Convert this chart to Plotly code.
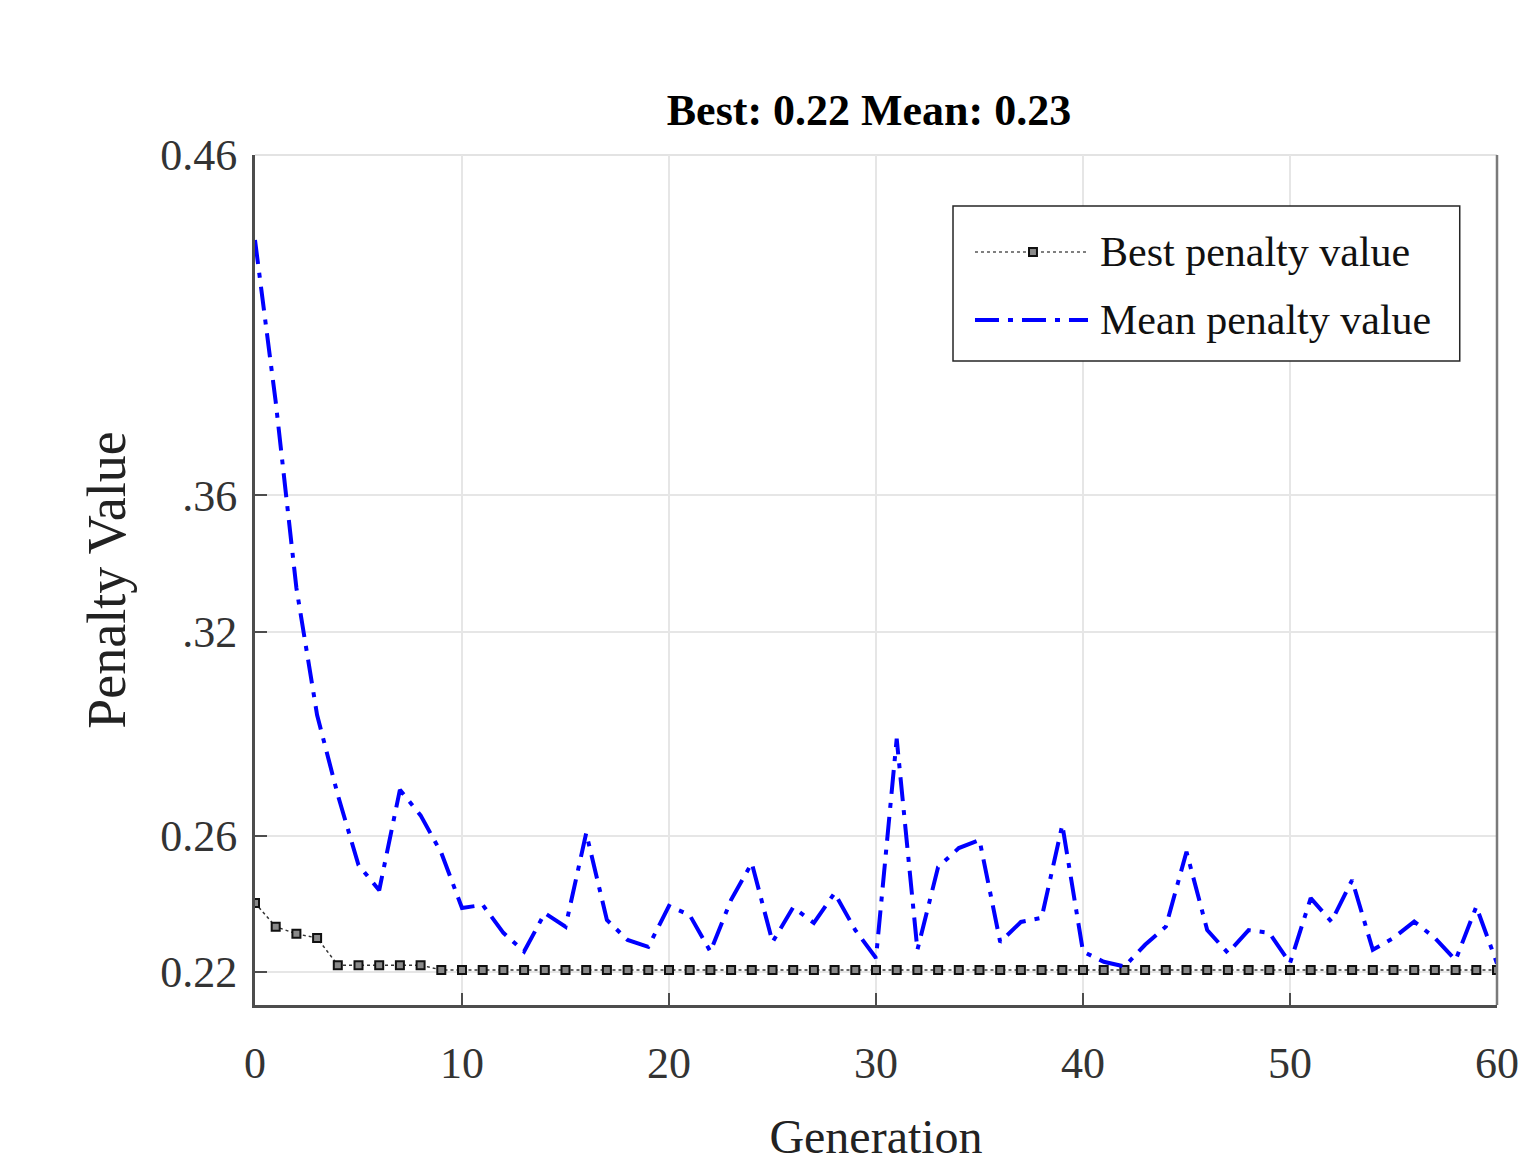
import plotly.graph_objects as go

generations = list(range(0, 61))

best_penalty = [
    0.2403, 0.2333, 0.2312, 0.2300, 0.2220, 0.2220, 0.2220, 0.2220, 0.2220, 0.2206,
    0.2206, 0.2206, 0.2206, 0.2206, 0.2206, 0.2206, 0.2206, 0.2206, 0.2206, 0.2206,
    0.2206, 0.2206, 0.2206, 0.2206, 0.2206, 0.2206, 0.2206, 0.2206, 0.2206, 0.2206,
    0.2206, 0.2206, 0.2206, 0.2206, 0.2206, 0.2206, 0.2206, 0.2206, 0.2206, 0.2206,
    0.2206, 0.2206, 0.2206, 0.2206, 0.2206, 0.2206, 0.2206, 0.2206, 0.2206, 0.2206,
    0.2206, 0.2206, 0.2206, 0.2206, 0.2206, 0.2206, 0.2206, 0.2206, 0.2206, 0.2206,
    0.2206,
]

mean_penalty = [
    0.4350, 0.3875, 0.3328, 0.2955, 0.2720, 0.2514, 0.2440, 0.2735, 0.2660, 0.2550,
    0.2388, 0.2397, 0.2315, 0.2260, 0.2373, 0.2333, 0.2608, 0.2353, 0.2294, 0.2274,
    0.2394, 0.2367, 0.2260, 0.2412, 0.2520, 0.2288, 0.2390, 0.2344, 0.2432, 0.2323,
    0.2241, 0.2885, 0.2265, 0.2508, 0.2564, 0.2588, 0.2288, 0.2347, 0.2359, 0.2632,
    0.2260, 0.2230, 0.2216, 0.2280, 0.2333, 0.2553, 0.2323, 0.2256, 0.2323, 0.2315,
    0.2226, 0.2417, 0.2348, 0.2470, 0.2265, 0.2300, 0.2348, 0.2300, 0.2235, 0.2392,
    0.2225,
]

y_tick_vals = [0.22, 0.26, 0.32, 0.36, 0.46]
y_tick_text = ["0.22", "0.26", ".32", ".36", "0.46"]
x_tick_vals = [0, 10, 20, 30, 40, 50, 60]

title_text = "Best: 0.22 Mean: 0.23"
legend_labels = ["Best penalty value", "Mean penalty value"]

FONT = "Liberation Serif, Times New Roman, serif"
AXIS_COLOR = "#4d4d4d"
MEAN_DASH = "24px,9px,5px,9px"

fig = go.Figure()

fig.add_trace(go.Scatter(
    x=generations, y=best_penalty, mode="lines+markers", name=legend_labels[0],
    line=dict(color="#333333", width=1.5, dash="dot"),
    marker=dict(symbol="square", size=8, color="#8a8a8a",
                line=dict(color="#111111", width=2)),
    showlegend=False,
))

fig.add_trace(go.Scatter(
    x=generations, y=mean_penalty, mode="lines", name=legend_labels[1],
    line=dict(color="#0000ff", width=4, dash=MEAN_DASH),
    showlegend=False,
))

# plot-frame extras: top and right edges
fig.add_shape(type="line", xref="paper", yref="paper", x0=0, x1=1, y0=1, y1=1,
              line=dict(color="#e3e3e3", width=2), layer="below")
fig.add_shape(type="line", xref="paper", yref="paper", x0=1, x1=1, y0=0, y1=1,
              line=dict(color="#7a7a7a", width=2.5))

# manual legend box (paper coords of plot area)
lx0, lx1, ly0, ly1 = 0.562, 0.970, 0.7576, 0.940
fig.add_shape(type="rect", xref="paper", yref="paper", x0=lx0, x1=lx1, y0=ly0, y1=ly1,
              line=dict(color="#262626", width=1.5), fillcolor="white")
row_y = [0.886, 0.806]
sx0, sx1, smid = 0.5797, 0.6707, 0.6264
fig.add_shape(type="line", xref="paper", yref="paper", x0=sx0, x1=sx1,
              y0=row_y[0], y1=row_y[0], line=dict(color="#555555", width=1.5, dash="dot"))
fig.add_shape(type="rect", xref="paper", yref="paper",
              x0=smid - 0.0032, x1=smid + 0.0032, y0=row_y[0] - 0.0047, y1=row_y[0] + 0.0047,
              line=dict(color="#111111", width=2), fillcolor="#8a8a8a")
fig.add_shape(type="line", xref="paper", yref="paper", x0=sx0, x1=sx1,
              y0=row_y[1], y1=row_y[1], line=dict(color="#0000ff", width=4, dash=MEAN_DASH))
for i, lab in enumerate(legend_labels):
    fig.add_annotation(xref="paper", yref="paper", x=0.6790, y=row_y[i],
                       xanchor="left", yanchor="middle", text=lab, showarrow=False,
                       font=dict(family=FONT, size=42, color="#111111"))

fig.update_layout(
    width=1539, height=1161,
    paper_bgcolor="white", plot_bgcolor="white",
    margin=dict(l=247, r=50, t=147, b=164),
    font=dict(family=FONT, color="#262626"),
    title=dict(text="<b>" + title_text + "</b>", x=(869 - 8) / 1539,
               xanchor="center", y=1 - (110 - 8) / 1161, yanchor="middle",
               font=dict(family=FONT, size=44, color="#000000")),
)

fig.update_xaxes(
    range=[0, 60], tickvals=x_tick_vals,
    showgrid=True, gridcolor="#e6e6e6", gridwidth=2,
    showline=True, linecolor=AXIS_COLOR, linewidth=3, mirror=False,
    ticks="inside", ticklen=12, tickwidth=2, tickcolor=AXIS_COLOR,
    tickfont=dict(family=FONT, size=44, color="#333333"),
    ticklabelstandoff=17,
    zeroline=False,
    title=dict(text="Generation", font=dict(family=FONT, size=48, color="#222222"), standoff=33),
)

fig.update_yaxes(
    range=[0.2103, 0.46], tickvals=y_tick_vals, ticktext=y_tick_text,
    showgrid=True, gridcolor="#e6e6e6", gridwidth=2,
    showline=True, linecolor=AXIS_COLOR, linewidth=3, mirror=False,
    ticks="inside", ticklen=12, tickwidth=2, tickcolor=AXIS_COLOR,
    tickfont=dict(family=FONT, size=44, color="#333333"),
    ticklabelstandoff=6,
    zeroline=False,
    title=dict(text="Penalty Value", font=dict(family=FONT, size=54, color="#222222"), standoff=18),
)

fig.write_html("out.html")
